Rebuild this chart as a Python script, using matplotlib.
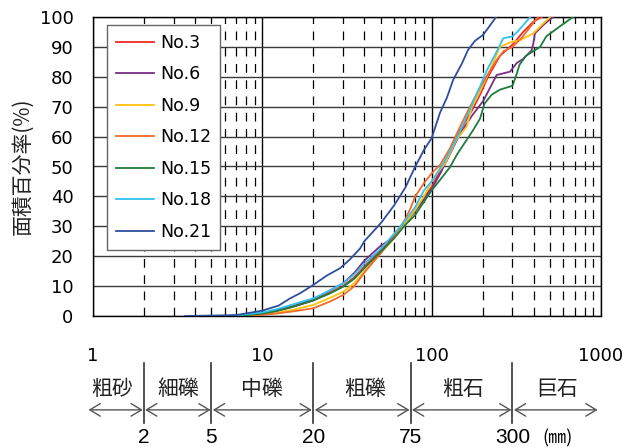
import matplotlib.pyplot as plt
from matplotlib.ticker import LogLocator, NullFormatter, FixedLocator

plt.rcParams['font.family'] = ['DejaVu Sans', 'Noto Sans CJK JP']

# grain size (mm) vs cumulative area percentage
size_no3 = [6.5, 8, 10, 12, 15, 20, 25, 30, 35, 40, 50, 60, 70, 80, 90, 100, 112, 128, 147, 174, 193, 215, 253, 303, 347, 400, 447]
pct_no3 = [0, 0.3, 0.8, 1.6, 3, 5.2, 7.8, 10, 13, 16.5, 22, 26.5, 31, 35.5, 39.4, 43.2, 48.5, 55, 62, 69, 74, 80, 87, 91, 95, 98.5, 100]

size_no6 = [6.5, 8, 10, 12, 15, 20, 25, 30, 35, 40, 50, 57, 60, 70, 80, 90, 100, 112, 128, 147, 173, 202, 242, 290, 318, 347, 389, 398, 407, 460, 521]
pct_no6 = [0, 0.4, 1, 1.8, 3.2, 5.6, 8.5, 10.9, 14.5, 18.5, 23.5, 25.5, 27, 31, 35, 39, 42.5, 47.5, 54, 61, 67, 72, 80.6, 81.7, 84.6, 86, 88.8, 91, 94.5, 97.5, 100]

size_no9 = [6.8, 8.5, 10, 12, 15, 20, 25, 30, 35, 40, 50, 60, 70, 80, 90, 100, 112, 120, 140, 161, 173, 185, 200, 220, 253, 290, 333, 398, 450, 500]
pct_no9 = [0, 0.3, 0.5, 1, 2, 3.7, 6, 8.1, 11, 15, 21, 26, 31, 35.5, 40, 45, 49, 51, 59, 63.3, 70, 73, 77, 82, 90, 91.5, 92.3, 94.5, 97.5, 100]

size_no12 = [7, 9, 10, 12, 15, 20, 25, 30, 35, 40, 50, 60, 70, 75, 80, 90, 100, 112, 128, 147, 165, 185, 210, 242, 265, 300, 340, 380, 425]
pct_no12 = [0, 0.2, 0.4, 0.8, 1.5, 2.6, 4.8, 7, 10, 14.5, 21, 26.5, 32.5, 36, 40, 44.4, 47.7, 50.5, 56, 63.3, 69, 74.5, 80, 85.6, 88.5, 90, 93, 96.5, 100]

size_no15 = [6.5, 8, 10, 12, 15, 20, 25, 30, 35, 40, 50, 60, 70, 80, 90, 100, 112, 128, 141, 161, 175, 193, 205, 226, 253, 300, 318, 330, 360, 437, 475, 560, 684]
pct_no15 = [0, 0.3, 0.8, 1.6, 3, 5.2, 7.5, 9.8, 12.5, 16, 21.5, 26, 30.5, 33.8, 38.2, 42, 45.5, 49.7, 54, 58.9, 62, 66, 71, 74, 75.7, 77, 81, 84, 87, 90, 93.5, 96.5, 100]

size_no18 = [6, 7.5, 10, 12, 15, 20, 25, 30, 35, 40, 50, 60, 70, 80, 90, 100, 120, 145, 168, 193, 211, 240, 265, 300, 320, 350, 382]
pct_no18 = [0, 0.4, 1.2, 2.2, 3.8, 5.9, 8.5, 10.9, 14, 17.5, 22.5, 27.5, 32, 36.5, 42, 45, 52, 61, 69, 76.7, 82, 88, 92.9, 93.5, 95, 97.5, 100]

size_no21 = [3.5, 7, 10, 12.5, 14.6, 16.7, 20, 24, 28.8, 33, 37.8, 40, 50, 60, 70, 80, 90, 100, 112, 123, 134, 151, 164, 180, 201, 220, 240]
pct_no21 = [0, 0.3, 1.8, 3.5, 5.9, 7.6, 10.4, 13.5, 16, 19, 22.6, 25, 31, 37, 43, 50, 55.5, 59.5, 68, 73, 79, 84.5, 89, 92, 94, 97, 100]

labels = ['No.3', 'No.6', 'No.9', 'No.12', 'No.15', 'No.18', 'No.21']
colors = ['#ee2a24', '#7a2f86', '#ffc20e', '#f26a2a', '#1e7d3c', '#33c2ee', '#2e4f9e']
sizes = [size_no3, size_no6, size_no9, size_no12, size_no15, size_no18, size_no21]
pcts = [pct_no3, pct_no6, pct_no9, pct_no12, pct_no15, pct_no18, pct_no21]

# soil classes below the axis
class_names = ['粗砂', '細礫', '中礫', '粗礫', '粗石', '巨石']
class_label_x = [1.29, 3.18, 9.96, 40.4, 153, 550]
class_bounds = [2, 5, 20, 75, 300]
arrow_ends = [(0.94, 1.97), (2.03, 4.95), (5.1, 19.6), (20.4, 74), (76.5, 296), (306, 955)]

fig = plt.figure(figsize=(6.26, 4.48), dpi=100)
ax = fig.add_axes([93 / 626, 1 - 316 / 448, 508 / 626, 299 / 448])

for s, p, c, lab in zip(sizes, pcts, colors, labels):
    ax.plot(s, p, color=c, lw=1.3, label=lab, zorder=3)

ax.set_xscale('log')
ax.set_xlim(1, 1000)
ax.set_ylim(0, 100)
ax.set_yticks(range(0, 101, 10))
ax.xaxis.set_major_locator(FixedLocator([1, 10, 100, 1000]))
ax.set_xticklabels(['1', '10', '100', '1000'])
ax.xaxis.set_minor_locator(LogLocator(base=10, subs=range(2, 10)))
ax.xaxis.set_minor_formatter(NullFormatter())

ax.set_axisbelow(True)
ax.yaxis.grid(True, color='#3a3a3a', lw=1)
ax.xaxis.grid(True, which='major', color='black', lw=1)
ax.xaxis.grid(True, which='minor', color='black', lw=0.9, linestyle=(0, (7, 6)))

ax.tick_params(axis='both', which='both', length=0)
ax.tick_params(axis='y', pad=14, labelsize=13)
ax.tick_params(axis='x', pad=22, labelsize=13)
for sp in ax.spines.values():
    sp.set_color('black')
    sp.set_linewidth(1)

ax.set_ylabel('面積百分率(%)', fontsize=15, color='#222222',
              family=['Noto Sans CJK JP', 'DejaVu Sans'])
ax.yaxis.set_label_coords(-0.118, 0.5)

leg = ax.legend(loc='upper left', bbox_to_anchor=(107 / 626, 1 - 25 / 448),
                bbox_transform=fig.transFigure, borderaxespad=0, fontsize=12.5,
                handlelength=2.2, handletextpad=0.35, labelspacing=0.78,
                borderpad=0.5, fancybox=False, framealpha=1)
leg.get_frame().set_edgecolor('#666666')
leg.get_frame().set_linewidth(1)

# classification band
trans = ax.get_xaxis_transform()
for b in class_bounds:
    ax.plot([b, b], [-0.157, -0.358], transform=trans, color='#333333', lw=1.2, clip_on=False)
for name, x in zip(class_names, class_label_x):
    ax.text(x, -0.245, name, transform=trans, ha='center', va='center', fontsize=15,
            color='#222222', family=['Noto Sans CJK JP'])
for a, b in arrow_ends:
    ax.annotate('', xy=(b, -0.314), xytext=(a, -0.314), xycoords=trans, textcoords=trans,
                arrowprops=dict(arrowstyle='<->,head_length=0.5,head_width=0.3', color='#555555',
                                lw=1, shrinkA=0, shrinkB=0, mutation_scale=15),
                annotation_clip=False)
for b in class_bounds:
    ax.text(b, -0.375, str(b), transform=trans, ha='center', va='top', fontsize=15,
            family=['Liberation Sans', 'DejaVu Sans'])
ax.text(550, -0.378, '(㎜)', transform=trans, ha='center', va='top', fontsize=13,
        family=['Noto Sans CJK JP', 'DejaVu Sans'])

fig.savefig('out.png', dpi=100)
